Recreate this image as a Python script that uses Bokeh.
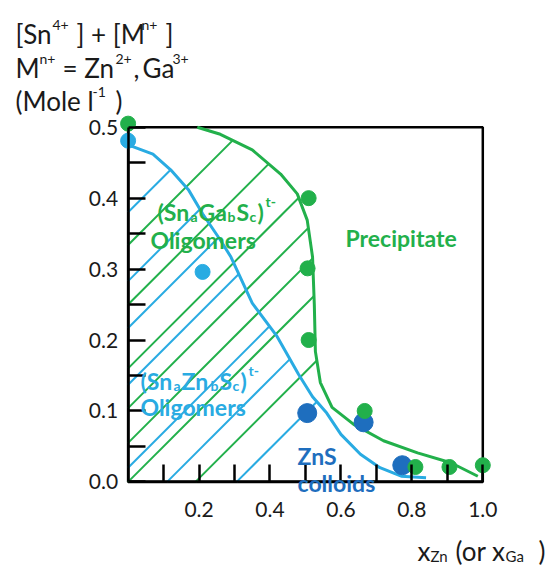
from bokeh.plotting import figure
from bokeh.models import Label, FixedTicker, NumeralTickFormatter, BoxAnnotation, Range1d
from bokeh.embed import file_html
from bokeh.resources import INLINE

# ---------------- data ----------------
green_pts_x = [0.0, 0.509, 0.506, 0.509, 0.667, 0.81, 0.906, 1.0]
green_pts_y = [0.505, 0.40, 0.301, 0.20, 0.10, 0.021, 0.021, 0.0235]
lblue_pts_x = [0.0, 0.21]
lblue_pts_y = [0.481, 0.296]
dblue_pts_x = [0.505, 0.664, 0.773]
dblue_pts_y = [0.097, 0.084, 0.0235]

blue_curve_x = [0.0, 0.07, 0.12, 0.17, 0.21, 0.26, 0.29, 0.35, 0.42, 0.48, 0.52, 0.56, 0.60, 0.655, 0.71, 0.77, 0.84]
blue_curve_y = [0.475, 0.462, 0.44, 0.412, 0.378, 0.341, 0.317, 0.252, 0.205, 0.152, 0.12, 0.097, 0.067, 0.039, 0.02, 0.008, 0.006]

green_curve_x = [0.195, 0.26, 0.35, 0.43, 0.477, 0.505, 0.52, 0.525, 0.528, 0.542, 0.575, 0.636, 0.72, 0.816, 0.91, 0.986]
green_curve_y = [0.5, 0.49, 0.468, 0.434, 0.406, 0.369, 0.317, 0.25, 0.184, 0.14, 0.105, 0.081, 0.058, 0.041, 0.027, 0.008]

# hatch lines: value where each 45-degree line meets x = 0
green_hatch_b = [0.334, 0.25, 0.16, 0.104, 0.055, 0.0, -0.095]
blue_hatch_b = [0.38, 0.283, 0.217, 0.137, 0.02, -0.055, -0.153]

y_ticks = [0.0, 0.1, 0.2, 0.3, 0.4, 0.5]
y_minor = [0.05, 0.15, 0.25, 0.35, 0.45]
x_ticks = [0.2, 0.4, 0.6, 0.8, 1.0]
x_minor = [0.1, 0.3, 0.5, 0.7, 0.9]

# ---------------- layout ----------------
GREEN = "#22B04B"
LBLUE = "#29ABE2"
DBLUE = "#1E6EBE"
TXT = "#1a1a1a"
FONT = "Lato"

W, H = 557, 567
X0, SX = 127.6, 354.7      # page px of x = 0, px per x unit
Y0, SY = 481.4, 709.4      # page px of y = 0, px per y unit
XR = (-X0 / SX, (W - X0) / SX)
YR = ((Y0 - H) / SY, Y0 / SY)
K = SX / SY                 # data slope of a 45-degree pixel line


def px2x(px):
    return (px - X0) / SX


def py2y(py):
    return (Y0 - py) / SY


p = figure(width=W, height=H, output_backend="svg", toolbar_location=None,
           x_range=Range1d(*XR), y_range=Range1d(*YR),
           min_border=0, min_border_left=0, min_border_right=0, min_border_top=0, min_border_bottom=0)
p.xgrid.visible = False
p.ygrid.visible = False
p.outline_line_color = None
p.background_fill_color = "white"
p.border_fill_color = "white"

# axes (fixed at the data origin)
for ax in (p.xaxis[0], p.yaxis[0]):
    ax.fixed_location = 0
    ax.axis_line_color = "black"
    ax.axis_line_width = 2.5
    ax.major_tick_in = 17
    ax.major_tick_out = 0
    ax.minor_tick_in = 17
    ax.minor_tick_out = 0
    ax.major_tick_line_color = "black"
    ax.major_tick_line_width = 2.5
    ax.minor_tick_line_color = "black"
    ax.minor_tick_line_width = 2.5
    ax.major_label_text_font = FONT
    ax.major_label_text_font_size = "21px"
    ax.major_label_text_color = TXT
    ax.formatter = NumeralTickFormatter(format="0.0")
p.yaxis[0].ticker = FixedTicker(ticks=y_ticks, minor_ticks=y_minor)
p.yaxis[0].bounds = (0, 0.5)
p.yaxis[0].major_label_standoff = 10
p.xaxis[0].ticker = FixedTicker(ticks=x_ticks, minor_ticks=x_minor)
p.xaxis[0].bounds = (0, 1.0)
p.xaxis[0].major_label_standoff = 20

p.add_layout(BoxAnnotation(left=0, right=1.0, bottom=0, top=0.5, fill_color=None, fill_alpha=0,
                           line_color="black", line_alpha=1.0, line_width=2.5, level="underlay"))


# hatch lines
def hatch(bs, cx, cy):
    xs0, ys0, xs1, ys1 = [], [], [], []
    for b in bs:
        if b >= 0:
            sx, sy = 0.0, b
        else:
            sx, sy = -b / K, 0.0
        for i in range(len(cx) - 1):
            x1, x2 = cx[i], cx[i + 1]
            if x2 < sx:
                continue
            g1 = cy[i] - (b + K * x1)
            g2 = cy[i + 1] - (b + K * x2)
            if g1 >= 0 and g2 < 0:
                t = g1 / (g1 - g2)
                ex = x1 + t * (x2 - x1)
                xs0.append(sx); ys0.append(sy)
                xs1.append(ex); ys1.append(b + K * ex)
                break
    return xs0, ys0, xs1, ys1


g = hatch(green_hatch_b, [0.0] + green_curve_x, [0.5] + green_curve_y)
p.segment(g[0], g[1], g[2], g[3], line_color=GREEN, line_width=2)
bl = hatch(blue_hatch_b, blue_curve_x, blue_curve_y)
p.segment(bl[0], bl[1], bl[2], bl[3], line_color=LBLUE, line_width=2)

# curves
p.line(blue_curve_x, blue_curve_y, line_color=LBLUE, line_width=3)
p.line(green_curve_x, green_curve_y, line_color=GREEN, line_width=3)

# points
p.scatter(dblue_pts_x, dblue_pts_y, size=19, color=DBLUE)
p.scatter(green_pts_x, green_pts_y, size=15, color=GREEN)
p.scatter(lblue_pts_x, lblue_pts_y, size=15, color=LBLUE)


# rich text made of pieces: (text, page_x, page_baseline_y, size_px)
def rich(pieces, color, bold=False):
    for txt, px, py, fs in pieces:
        p.add_layout(Label(x=px2x(px), y=py2y(py), text=txt, text_font=FONT,
                           text_font_size=f"{fs}px", text_color=color,
                           text_font_style="bold" if bold else "normal",
                           text_align="left", text_baseline="alphabetic"))


rich([("[Sn", 15, 33, 26), ("4+", 52, 24, 14), ("] + [M", 76, 33, 26), ("n+", 141, 24, 14), ("]", 165, 33, 26),
      ("M", 15, 67, 26), ("n+", 39, 58, 14), ("= Zn", 62, 67, 26), ("2+", 115, 58, 14), (",", 133, 67, 26),
      ("Ga", 142, 67, 26), ("3+", 172, 58, 14),
      ("(Mole l", 15, 100, 26), ("-1", 92, 91, 14), (")", 115, 100, 26)], TXT)

rich([("x", 417, 550, 26), ("Zn", 430, 555, 15), ("(or x", 455, 550, 26), ("Ga", 505, 555, 15),
      (")", 538, 550, 26)], TXT)

rich([("(Sn", 157, 211, 23), ("a", 190, 216, 14), ("Ga", 198, 211, 23), ("b", 227, 216, 14),
      ("S", 236, 211, 23), ("c", 249, 216, 14), (")", 257, 211, 23), ("t-", 265, 201, 14),
      ("Oligomers", 150, 239, 23), ("Precipitate", 345, 237, 23)], GREEN, bold=True)

rich([("(Sn", 140, 380, 23), ("a", 173, 385, 14), ("Zn", 181, 380, 23), ("b", 210, 385, 14),
      ("S", 219, 380, 23), ("c", 232, 385, 14), (")", 240, 380, 23), ("t-", 248, 370, 14),
      ("Oligomers", 140, 406, 23)], LBLUE, bold=True)

rich([("ZnS", 297, 455, 23), ("colloids", 297, 482, 23)], DBLUE, bold=True)

open("out.html", "w").write(file_html(p, INLINE))
